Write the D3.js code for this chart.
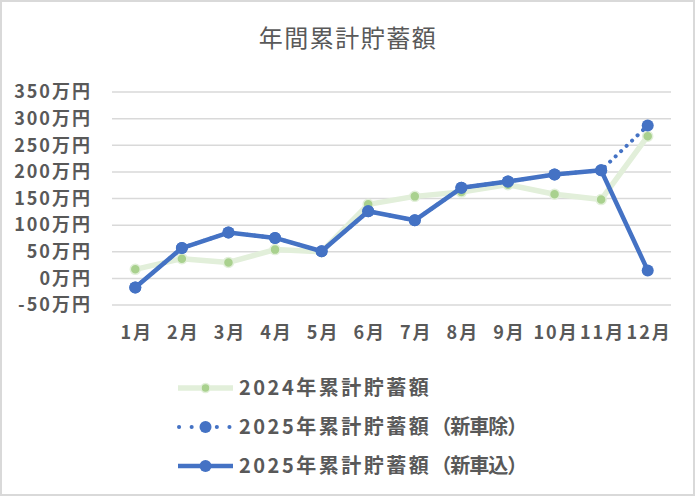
<!DOCTYPE html>
<html>
<head>
<meta charset="utf-8">
<script src="https://cdn.jsdelivr.net/npm/d3@7"></script>
<style>
	body { margin: 0; background: #fff; }
	svg text { font-family: "Noto Sans CJK JP", "Noto Sans", sans-serif; fill: #595959; }
</style>
</head>
<body>
<div id="chart"></div>
<script>
// データ
var months = ["1月", "2月", "3月", "4月", "5月", "6月", "7月", "8月", "9月", "10月", "11月", "12月"];
var yTicks = [-50, 0, 50, 100, 150, 200, 250, 300, 350];
var savings2024 = [17, 37, 30, 54, 50, 139, 154, 162, 176, 158, 148, 267];
var savings2025NoCar = [-17, 57, 86, 76, 51, 126, 109, 170, 182, 195, 203, 287];
var savings2025WithCar = [-17, 57, 86, 76, 51, 126, 109, 170, 182, 195, 203, 15];
var seriesNames = ["2024年累計貯蓄額", "2025年累計貯蓄額（新車除）", "2025年累計貯蓄額（新車込）"];

drawChart()

function drawChart() {
	var W = 695, H = 496;
	var plot = { left: 112, right: 671, top: 92, bottom: 305 };

	var svg = d3.select("#chart")
		.append("svg")
		.attr("width", W)
		.attr("height", H);

	// 枠線
	svg.append("rect")
		.attr("x", 1).attr("y", 1)
		.attr("width", W - 2).attr("height", H - 2)
		.attr("fill", "#fff")
		.attr("stroke", "#d9d9d9")
		.attr("stroke-width", 2);

	// タイトル
	svg.append("text")
		.attr("x", 348).attr("y", 47)
		.attr("text-anchor", "middle")
		.style("font-size", "24px")
		.style("letter-spacing", "1.5px")
		.text("年間累計貯蓄額");

	var x = d3.scalePoint().domain(months).range([plot.left, plot.right]).padding(0.5);
	var y = d3.scaleLinear().domain([-50, 350]).range([plot.bottom, plot.top]);

	// グリッド
	svg.append("g").selectAll("line")
		.data(yTicks)
		.join("line")
		.attr("x1", plot.left).attr("x2", plot.right)
		.attr("y1", d => y(d)).attr("y2", d => y(d))
		.attr("stroke", "#d9d9d9")
		.attr("stroke-width", 1.5);

	// Y軸ラベル
	var yAxis = d3.axisLeft(y).tickValues(yTicks).tickSize(0).tickPadding(0)
		.tickFormat(d => d + "万円");
	svg.append("g")
		.attr("transform", "translate(92,0)")
		.call(yAxis)
		.call(g => g.select(".domain").remove())
		.selectAll("text")
		.attr("fill", "#595959")
		.style("font-size", "18px")
		.style("letter-spacing", "2px")
		.style("font-weight", "bold");

	// X軸ラベル
	var xAxis = d3.axisBottom(x).tickSize(0).tickPadding(0);
	svg.append("g")
		.attr("transform", "translate(1,326)")
		.call(xAxis)
		.call(g => g.select(".domain").remove())
		.selectAll("text")
		.attr("fill", "#595959")
		.style("font-size", "18px")
		.style("letter-spacing", "2px")
		.style("font-weight", "bold");

	var line = d3.line().x((d, i) => x(months[i])).y(d => y(d));

	// 2024
	svg.append("path")
		.datum(savings2024)
		.attr("d", line)
		.attr("fill", "none")
		.attr("stroke", "#e2efda")
		.attr("stroke-width", 5.5)
		.attr("stroke-linejoin", "round");
	svg.append("g").selectAll("circle")
		.data(savings2024)
		.join("circle")
		.attr("cx", (d, i) => x(months[i]))
		.attr("cy", d => y(d))
		.attr("r", 5)
		.attr("fill", "#a9d18e")
		.attr("stroke", "#e2efda")
		.attr("stroke-width", 1.5);

	// 2025 新車除 (点線)
	svg.append("path")
		.datum(savings2025NoCar)
		.attr("d", line)
		.attr("fill", "none")
		.attr("stroke", "#4472c4")
		.attr("stroke-width", 4)
		.attr("stroke-linecap", "round")
		.attr("stroke-dasharray", "0.1 7.5");
	svg.append("g").selectAll("circle")
		.data(savings2025NoCar)
		.join("circle")
		.attr("cx", (d, i) => x(months[i]))
		.attr("cy", d => y(d))
		.attr("r", 6)
		.attr("fill", "#4472c4");

	// 2025 新車込
	svg.append("path")
		.datum(savings2025WithCar)
		.attr("d", line)
		.attr("fill", "none")
		.attr("stroke", "#4472c4")
		.attr("stroke-width", 4.5)
		.attr("stroke-linejoin", "round");
	svg.append("g").selectAll("circle")
		.data(savings2025WithCar)
		.join("circle")
		.attr("cx", (d, i) => x(months[i]))
		.attr("cy", d => y(d))
		.attr("r", 6)
		.attr("fill", "#4472c4");

	// 凡例
	var leg = svg.append("g").attr("transform", "translate(178,0)");
	var rowsY = [388, 427, 466];

	leg.append("line")
		.attr("x1", 0).attr("x2", 55).attr("y1", rowsY[0]).attr("y2", rowsY[0])
		.attr("stroke", "#e2efda").attr("stroke-width", 5.5);
	leg.append("circle").attr("cx", 27.5).attr("cy", rowsY[0]).attr("r", 4.5)
		.attr("fill", "#a9d18e").attr("stroke", "#e2efda").attr("stroke-width", 1.5);

	leg.append("line")
		.attr("x1", 1).attr("x2", 55).attr("y1", rowsY[1]).attr("y2", rowsY[1])
		.attr("stroke", "#4472c4").attr("stroke-width", 4)
		.attr("stroke-linecap", "round").attr("stroke-dasharray", "0.1 12.5");
	leg.append("circle").attr("cx", 27.5).attr("cy", rowsY[1]).attr("r", 6)
		.attr("fill", "#4472c4");

	leg.append("line")
		.attr("x1", 0).attr("x2", 55).attr("y1", rowsY[2]).attr("y2", rowsY[2])
		.attr("stroke", "#4472c4").attr("stroke-width", 4.5);
	leg.append("circle").attr("cx", 27.5).attr("cy", rowsY[2]).attr("r", 6)
		.attr("fill", "#4472c4");

	// 数字と漢字は広め、括弧部分は詰める
	var lt = leg.selectAll("text")
		.data(seriesNames)
		.join("text")
		.attr("x", 61)
		.attr("y", (d, i) => rowsY[i])
		.attr("dy", "0.36em")
		.style("font-size", "20px")
		.style("font-weight", "bold");
	lt.append("tspan")
		.style("letter-spacing", "2.5px")
		.text(d => d.split("（")[0]);
	lt.filter(d => d.indexOf("（") >= 0)
		.append("tspan")
		.style("letter-spacing", "-1px")
		.text(d => "（" + d.split("（")[1]);
}
</script>
</body>
</html>
